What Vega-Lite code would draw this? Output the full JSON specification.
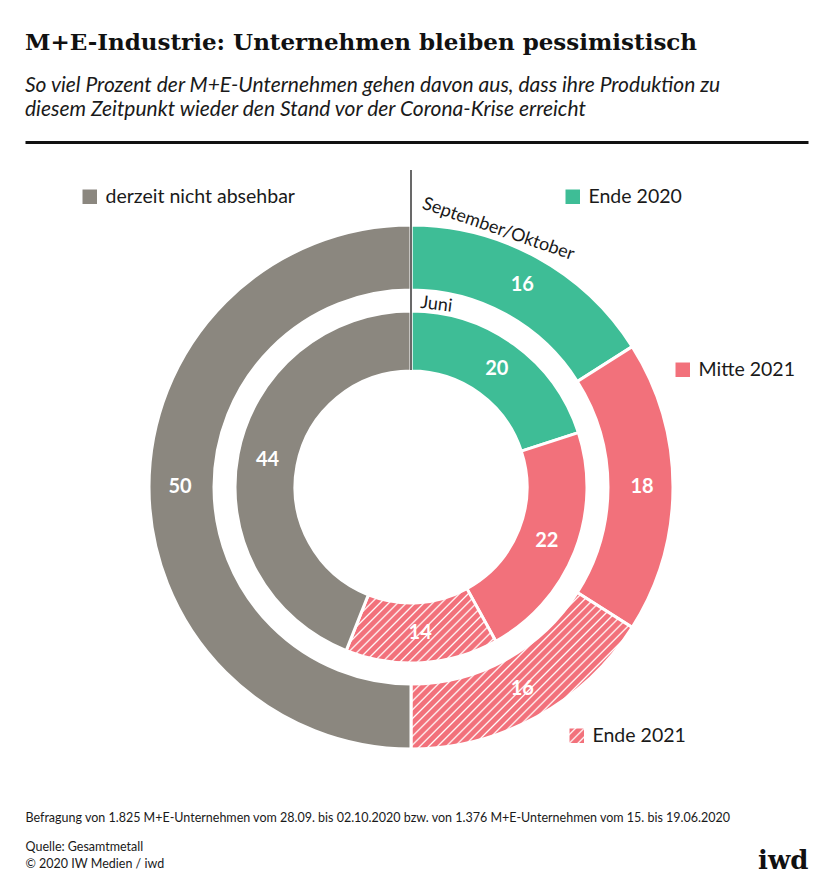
{
  "$schema": "https://vega.github.io/schema/vega-lite/v6.json",
  "width": 783,
  "height": 650,
  "autosize": {"type": "none"},
  "padding": {"left": 25, "top": 142, "right": 19, "bottom": 101},
  "background": "white",
  "config": {
    "view": {"stroke": null},
    "font": "Lato",
    "legend": {
      "labelFont": "Lato",
      "labelFontSize": 19.5,
      "labelColor": "#1a1a1a",
      "labelLimit": 400,
      "symbolType": "square",
      "symbolSize": 210,
      "symbolStrokeWidth": 0,
      "labelOffset": 6,
      "padding": 0
    }
  },
  "title": {
    "text": "M+E-Industrie: Unternehmen bleiben pessimistisch",
    "subtitle": ["So viel Prozent der M+E-Unternehmen gehen davon aus, dass ihre Produktion zu", "diesem Zeitpunkt wieder den Stand vor der Corona-Krise erreicht"],
    "anchor": "start",
    "frame": "group",
    "orient": "top",
    "font": "DejaVu Serif",
    "fontSize": 23,
    "fontWeight": "bold",
    "color": "#111111",
    "subtitleFont": "Lato",
    "subtitleFontSize": 21,
    "subtitleFontStyle": "italic",
    "subtitleColor": "#1a1a1a",
    "subtitleLineHeight": 24,
    "subtitlePadding": 20,
    "offset": 22
  },
  "datasets": {
    "umfrage": [
      {"ring": "September/Oktober", "cat": "Ende 2020", "k": 1, "value": 16},
      {"ring": "September/Oktober", "cat": "Mitte 2021", "k": 2, "value": 18},
      {"ring": "September/Oktober", "cat": "Ende 2021", "k": 3, "value": 16},
      {"ring": "September/Oktober", "cat": "derzeit nicht absehbar", "k": 4, "value": 50},
      {"ring": "Juni", "cat": "Ende 2020", "k": 1, "value": 20},
      {"ring": "Juni", "cat": "Mitte 2021", "k": 2, "value": 22},
      {"ring": "Juni", "cat": "Ende 2021", "k": 3, "value": 14},
      {"ring": "Juni", "cat": "derzeit nicht absehbar", "k": 4, "value": 44}
    ]
  },
  "layer": [
    {
      "data": {"name": "umfrage"},
      "transform": [{"filter": "datum.ring === 'September/Oktober'"}],
      "encoding": {
        "theta": {"field": "value", "type": "quantitative", "stack": true, "scale": {"domain": [0, 100]}},
        "order": {"field": "k", "type": "quantitative"},
        "x": {"datum": 0, "type": "quantitative", "scale": {"domain": [-386, 397], "nice": false, "zero": false},
          "axis": {"orient": "bottom", "domain": false, "ticks": false, "labels": false, "grid": false,
            "title": "Befragung von 1.825 M+E-Unternehmen vom 28.09. bis 02.10.2020 bzw. von 1.376 M+E-Unternehmen vom 15. bis 19.06.2020",
            "titleAngle": 0, "titleAlign": "left", "titleBaseline": "alphabetic", "titleX": 0, "titleY": 29,
            "titleFont": "Lato", "titleFontSize": 12.5, "titleFontWeight": "normal", "titleColor": "#1a1a1a"}},
        "y": {"datum": 0, "type": "quantitative", "scale": {"domain": [-305, 345], "nice": false, "zero": false},
          "axis": {"orient": "left", "domain": false, "ticks": false, "labels": false, "grid": false,
            "title": ["Quelle: Gesamtmetall", "© 2020 IW Medien / iwd"],
            "titleAngle": 0, "titleAlign": "left", "titleBaseline": "alphabetic", "titleX": 0, "titleY": 708,
            "titleFont": "Lato", "titleFontSize": 12.5, "titleFontWeight": "normal", "titleColor": "#1a1a1a", "titleLineHeight": 17}}
      },
      "layer": [
        {
          "mark": {"type": "arc", "radius": 262, "radius2": 197, "stroke": "white", "strokeWidth": 3},
          "encoding": {
            "color": {
              "condition": {"test": "datum.cat === 'Ende 2021'", "value":
                  {"gradient": "linear", "x1": 0, "y1": 0, "x2": 1.06, "y2": 0.75, "stops": [
                    {"offset": 0, "color": "#f2717b"},
                    {"offset": 0.2325, "color": "#f2717b"}, {"offset": 0.2375, "color": "#ffffff"}, {"offset": 0.2425, "color": "#f2717b"},
                    {"offset": 0.2575, "color": "#f2717b"}, {"offset": 0.2625, "color": "#ffffff"}, {"offset": 0.2675, "color": "#f2717b"},
                    {"offset": 0.2825, "color": "#f2717b"}, {"offset": 0.2875, "color": "#ffffff"}, {"offset": 0.2925, "color": "#f2717b"},
                    {"offset": 0.3075, "color": "#f2717b"}, {"offset": 0.3125, "color": "#ffffff"}, {"offset": 0.3175, "color": "#f2717b"},
                    {"offset": 0.3325, "color": "#f2717b"}, {"offset": 0.3375, "color": "#ffffff"}, {"offset": 0.3425, "color": "#f2717b"},
                    {"offset": 0.3575, "color": "#f2717b"}, {"offset": 0.3625, "color": "#ffffff"}, {"offset": 0.3675, "color": "#f2717b"},
                    {"offset": 0.3825, "color": "#f2717b"}, {"offset": 0.3875, "color": "#ffffff"}, {"offset": 0.3925, "color": "#f2717b"},
                    {"offset": 0.4075, "color": "#f2717b"}, {"offset": 0.4125, "color": "#ffffff"}, {"offset": 0.4175, "color": "#f2717b"},
                    {"offset": 0.4325, "color": "#f2717b"}, {"offset": 0.4375, "color": "#ffffff"}, {"offset": 0.4425, "color": "#f2717b"},
                    {"offset": 0.4575, "color": "#f2717b"}, {"offset": 0.4625, "color": "#ffffff"}, {"offset": 0.4675, "color": "#f2717b"},
                    {"offset": 0.4825, "color": "#f2717b"}, {"offset": 0.4875, "color": "#ffffff"}, {"offset": 0.4925, "color": "#f2717b"},
                    {"offset": 0.5075, "color": "#f2717b"}, {"offset": 0.5125, "color": "#ffffff"}, {"offset": 0.5175, "color": "#f2717b"},
                    {"offset": 0.5325, "color": "#f2717b"}, {"offset": 0.5375, "color": "#ffffff"}, {"offset": 0.5425, "color": "#f2717b"},
                    {"offset": 0.5575, "color": "#f2717b"}, {"offset": 0.5625, "color": "#ffffff"}, {"offset": 0.5675, "color": "#f2717b"},
                    {"offset": 0.5825, "color": "#f2717b"}, {"offset": 0.5875, "color": "#ffffff"}, {"offset": 0.5925, "color": "#f2717b"},
                    {"offset": 0.6075, "color": "#f2717b"}, {"offset": 0.6125, "color": "#ffffff"}, {"offset": 0.6175, "color": "#f2717b"},
                    {"offset": 0.6325, "color": "#f2717b"}, {"offset": 0.6375, "color": "#ffffff"}, {"offset": 0.6425, "color": "#f2717b"},
                    {"offset": 0.6575, "color": "#f2717b"}, {"offset": 0.6625, "color": "#ffffff"}, {"offset": 0.6675, "color": "#f2717b"},
                    {"offset": 0.6825, "color": "#f2717b"}, {"offset": 0.6875, "color": "#ffffff"}, {"offset": 0.6925, "color": "#f2717b"},
                    {"offset": 0.7075, "color": "#f2717b"}, {"offset": 0.7125, "color": "#ffffff"}, {"offset": 0.7175, "color": "#f2717b"},
                    {"offset": 0.7325, "color": "#f2717b"}, {"offset": 0.7375, "color": "#ffffff"}, {"offset": 0.7425, "color": "#f2717b"},
                    {"offset": 0.7575, "color": "#f2717b"}, {"offset": 0.7625, "color": "#ffffff"}, {"offset": 0.7675, "color": "#f2717b"},
                    {"offset": 0.7825, "color": "#f2717b"}, {"offset": 0.7875, "color": "#ffffff"}, {"offset": 0.7925, "color": "#f2717b"},
                    {"offset": 1, "color": "#f2717b"}
                  ]}},
              "field": "cat", "type": "nominal", "legend": null,
              "scale": {"domain": ["Ende 2020", "Mitte 2021", "Ende 2021", "derzeit nicht absehbar"],
                "range": ["#3ebd96", "#f2717b", "#f2717b", "#8b877f"]}}
          }
        },
        {
          "mark": {"type": "text", "radius": 231, "fontSize": 20, "fontWeight": "bold", "fill": "white", "font": "Lato"},
          "encoding": {"text": {"field": "value", "type": "quantitative"}}
        }
      ]
    },
    {
      "data": {"name": "umfrage"},
      "transform": [{"filter": "datum.ring === 'Juni'"}],
      "encoding": {
        "theta": {"field": "value", "type": "quantitative", "stack": true, "scale": {"domain": [0, 100]}},
        "order": {"field": "k", "type": "quantitative"},
        "x": {"datum": 0, "type": "quantitative", "axis": null},
        "y": {"datum": 0, "type": "quantitative", "axis": null}
      },
      "layer": [
        {
          "mark": {"type": "arc", "radius": 176, "radius2": 116, "stroke": "white", "strokeWidth": 3},
          "encoding": {
            "color": {
              "condition": {"test": "datum.cat === 'Ende 2021'", "value":
                  {"gradient": "linear", "x1": 0, "y1": 0, "x2": 1.175, "y2": 0.584, "stops": [
                    {"offset": 0, "color": "#f2717b"},
                    {"offset": 0.092, "color": "#f2717b"}, {"offset": 0.10, "color": "#ffffff"}, {"offset": 0.108, "color": "#f2717b"},
                    {"offset": 0.132, "color": "#f2717b"}, {"offset": 0.14, "color": "#ffffff"}, {"offset": 0.148, "color": "#f2717b"},
                    {"offset": 0.172, "color": "#f2717b"}, {"offset": 0.18, "color": "#ffffff"}, {"offset": 0.188, "color": "#f2717b"},
                    {"offset": 0.212, "color": "#f2717b"}, {"offset": 0.22, "color": "#ffffff"}, {"offset": 0.228, "color": "#f2717b"},
                    {"offset": 0.252, "color": "#f2717b"}, {"offset": 0.26, "color": "#ffffff"}, {"offset": 0.268, "color": "#f2717b"},
                    {"offset": 0.292, "color": "#f2717b"}, {"offset": 0.30, "color": "#ffffff"}, {"offset": 0.308, "color": "#f2717b"},
                    {"offset": 0.332, "color": "#f2717b"}, {"offset": 0.34, "color": "#ffffff"}, {"offset": 0.348, "color": "#f2717b"},
                    {"offset": 0.372, "color": "#f2717b"}, {"offset": 0.38, "color": "#ffffff"}, {"offset": 0.388, "color": "#f2717b"},
                    {"offset": 0.412, "color": "#f2717b"}, {"offset": 0.42, "color": "#ffffff"}, {"offset": 0.428, "color": "#f2717b"},
                    {"offset": 0.452, "color": "#f2717b"}, {"offset": 0.46, "color": "#ffffff"}, {"offset": 0.468, "color": "#f2717b"},
                    {"offset": 0.492, "color": "#f2717b"}, {"offset": 0.50, "color": "#ffffff"}, {"offset": 0.508, "color": "#f2717b"},
                    {"offset": 0.532, "color": "#f2717b"}, {"offset": 0.54, "color": "#ffffff"}, {"offset": 0.548, "color": "#f2717b"},
                    {"offset": 0.572, "color": "#f2717b"}, {"offset": 0.58, "color": "#ffffff"}, {"offset": 0.588, "color": "#f2717b"},
                    {"offset": 0.612, "color": "#f2717b"}, {"offset": 0.62, "color": "#ffffff"}, {"offset": 0.628, "color": "#f2717b"},
                    {"offset": 0.652, "color": "#f2717b"}, {"offset": 0.66, "color": "#ffffff"}, {"offset": 0.668, "color": "#f2717b"},
                    {"offset": 0.692, "color": "#f2717b"}, {"offset": 0.70, "color": "#ffffff"}, {"offset": 0.708, "color": "#f2717b"},
                    {"offset": 0.732, "color": "#f2717b"}, {"offset": 0.74, "color": "#ffffff"}, {"offset": 0.748, "color": "#f2717b"},
                    {"offset": 0.772, "color": "#f2717b"}, {"offset": 0.78, "color": "#ffffff"}, {"offset": 0.788, "color": "#f2717b"},
                    {"offset": 0.812, "color": "#f2717b"}, {"offset": 0.82, "color": "#ffffff"}, {"offset": 0.828, "color": "#f2717b"},
                    {"offset": 0.852, "color": "#f2717b"}, {"offset": 0.86, "color": "#ffffff"}, {"offset": 0.868, "color": "#f2717b"},
                    {"offset": 0.892, "color": "#f2717b"}, {"offset": 0.90, "color": "#ffffff"}, {"offset": 0.908, "color": "#f2717b"},
                    {"offset": 0.932, "color": "#f2717b"}, {"offset": 0.94, "color": "#ffffff"}, {"offset": 0.948, "color": "#f2717b"},
                    {"offset": 1, "color": "#f2717b"}
                  ]}},
              "field": "cat", "type": "nominal", "legend": null,
              "scale": {"domain": ["Ende 2020", "Mitte 2021", "Ende 2021", "derzeit nicht absehbar"],
                "range": ["#3ebd96", "#f2717b", "#f2717b", "#8b877f"]}}
          }
        },
        {
          "mark": {"type": "text", "radius": 146, "fontSize": 20, "fontWeight": "bold", "fill": "white", "font": "Lato"},
          "encoding": {"text": {"field": "value", "type": "quantitative"}}
        }
      ]
    },
    {
      "data": {"values": [{"linie": "Start"}]},
      "mark": {"type": "arc", "radius": 317, "radius2": 117, "stroke": "#1a1a1a", "strokeWidth": 1.3, "fillOpacity": 0},
      "encoding": {
        "theta": {"datum": 0, "type": "quantitative"},
        "theta2": {"datum": 0},
        "x": {"datum": 0, "type": "quantitative",
          "axis": {"orient": "top", "domain": true, "domainColor": "#111111", "domainWidth": 3, "domainOpacity": 1, "ticks": false, "labels": false, "grid": false, "title": null}},
        "y": {"datum": 0, "type": "quantitative",
          "axis": {"orient": "right", "domain": false, "ticks": false, "labels": false, "grid": false,
            "title": "iwd", "titleAngle": 0, "titleAlign": "right", "titleBaseline": "alphabetic", "titleX": 0, "titleY": 726,
            "titleFont": "DejaVu Serif", "titleFontSize": 26, "titleFontWeight": "bold", "titleColor": "#111111"}}
      }
    },
    {
      "data": {"values": [{"ring": "Juni"}]},
      "mark": {"type": "text", "radius": 184, "angle": 7, "fontSize": 18, "fill": "#1a1a1a", "font": "Lato"},
      "encoding": {
        "theta": {"datum": 2.2, "type": "quantitative"},
        "text": {"field": "ring", "type": "nominal"},
        "x": {"datum": 0, "type": "quantitative", "axis": null},
        "y": {"datum": 0, "type": "quantitative", "axis": null}
      }
    },
    {
      "data": {"values": [{"ring": "September/Oktober"}]},
      "mark": {"type": "text", "radius": 272, "angle": 19, "fontSize": 18, "fill": "#1a1a1a", "font": "Lato"},
      "encoding": {
        "theta": {"datum": 5.2, "type": "quantitative"},
        "text": {"field": "ring", "type": "nominal"},
        "x": {"datum": 0, "type": "quantitative", "axis": null},
        "y": {"datum": 0, "type": "quantitative", "axis": null}
      }
    },
    {
      "data": {"name": "umfrage"},
      "transform": [{"filter": "datum.ring === 'Juni' && datum.cat === 'derzeit nicht absehbar'"}],
      "mark": {"type": "text", "text": ""},
      "encoding": {
        "color": {"field": "cat", "type": "nominal", "scale": {"range": ["#8b877f"]},
          "legend": {"orient": "none", "legendX": 55, "legendY": 45, "title": null}}
      }
    },
    {
      "data": {"name": "umfrage"},
      "transform": [{"filter": "datum.ring === 'Juni' && datum.cat === 'Ende 2020'"}],
      "mark": {"type": "text", "text": ""},
      "encoding": {
        "color": {"field": "cat", "type": "nominal", "scale": {"range": ["#3ebd96"]},
          "legend": {"orient": "none", "legendX": 538, "legendY": 45, "title": null}}
      }
    },
    {
      "data": {"name": "umfrage"},
      "transform": [{"filter": "datum.ring === 'Juni' && datum.cat === 'Mitte 2021'"}],
      "mark": {"type": "text", "text": ""},
      "encoding": {
        "color": {"field": "cat", "type": "nominal", "scale": {"range": ["#f2717b"]},
          "legend": {"orient": "none", "legendX": 648, "legendY": 218, "title": null}}
      }
    },
    {
      "data": {"name": "umfrage"},
      "transform": [{"filter": "datum.ring === 'Juni' && datum.cat === 'Ende 2021'"}],
      "mark": {"type": "point", "filled": true, "size": 0, "opacity": 1, "strokeWidth": 0,
        "fill": {"gradient": "linear", "x1": 0, "y1": 0, "x2": 1, "y2": 1, "stops": [
          {"offset": 0, "color": "#f2717b"},
          {"offset": 0.14, "color": "#f2717b"}, {"offset": 0.2, "color": "#ffffff"}, {"offset": 0.26, "color": "#f2717b"},
          {"offset": 0.44, "color": "#f2717b"}, {"offset": 0.5, "color": "#ffffff"}, {"offset": 0.56, "color": "#f2717b"},
          {"offset": 0.74, "color": "#f2717b"}, {"offset": 0.8, "color": "#ffffff"}, {"offset": 0.86, "color": "#f2717b"},
          {"offset": 1, "color": "#f2717b"}
        ]}},
      "encoding": {
        "shape": {"field": "cat", "type": "nominal", "scale": {"range": ["square"]},
          "legend": {"orient": "none", "legendX": 542, "legendY": 584, "title": null}}
      }
    }
  ],
  "resolve": {"scale": {"color": "independent"}, "axis": {"x": "independent", "y": "independent"}}
}
